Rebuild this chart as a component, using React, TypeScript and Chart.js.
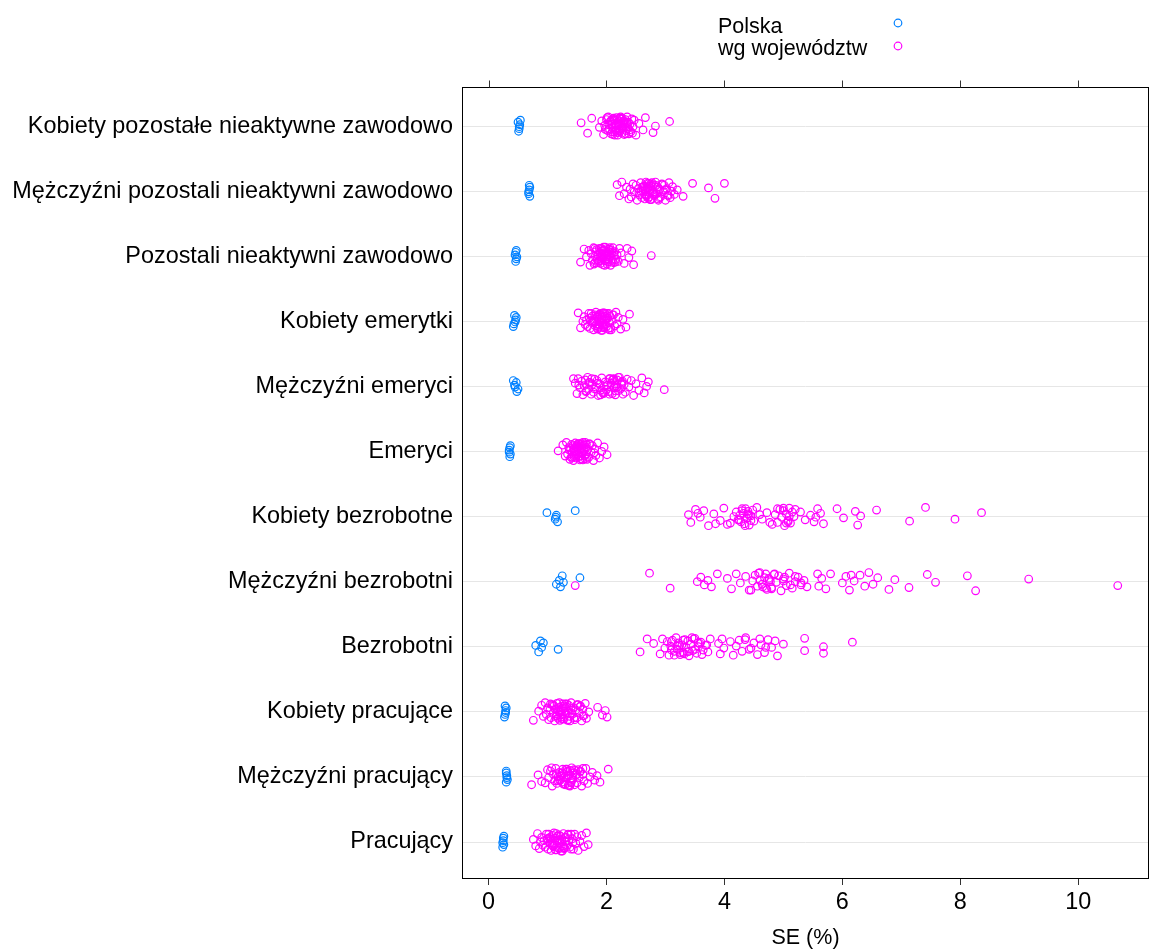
import React, { useEffect, useRef } from "react";
import { Chart, registerables } from "chart.js";

Chart.register(...registerables);

// Row labels, top to bottom
const categories = [
  "Kobiety pozostałe nieaktywne zawodowo",
  "Mężczyźni pozostali nieaktywni zawodowo",
  "Pozostali nieaktywni zawodowo",
  "Kobiety emerytki",
  "Mężczyźni emeryci",
  "Emeryci",
  "Kobiety bezrobotne",
  "Mężczyźni bezrobotni",
  "Bezrobotni",
  "Kobiety pracujące",
  "Mężczyźni pracujący",
  "Pracujący",
];

const seriesNames = ["Polska", "wg województw"];
const xTickValues = [0, 2, 4, 6, 8, 10];
const xTitle = "SE (%)";

// SE (%) for the whole country, one array per row
const polska: number[][] = [
  [0.5, 0.52, 0.53, 0.51, 0.54, 0.52],
  [0.68, 0.69, 0.7, 0.69, 0.68, 0.7],
  [0.45, 0.46, 0.47, 0.48, 0.46, 0.47],
  [0.42, 0.44, 0.45, 0.47, 0.43, 0.46],
  [0.42, 0.45, 0.47, 0.5, 0.44, 0.48],
  [0.35, 0.36, 0.37, 0.35, 0.36, 0.37],
  [0.99, 1.13, 1.15, 1.17, 1.47, 1.14],
  [1.15, 1.2, 1.22, 1.25, 1.27, 1.55],
  [0.8, 0.85, 0.88, 0.9, 0.93, 1.18],
  [0.27, 0.28, 0.29, 0.3, 0.28, 0.29],
  [0.3, 0.31, 0.3, 0.32, 0.31, 0.3],
  [0.24, 0.25, 0.26, 0.25, 0.24, 0.26],
];

// SE (%) by voivodeship, one array per row
const kobietyPozostale = [1.57, 1.68, 1.75, 1.88, 1.92, 1.95, 1.97, 2.0, 2.02, 2.03, 2.05, 2.06, 2.08, 2.09, 2.1, 2.11, 2.12, 2.13, 2.14, 2.15, 2.16, 2.17, 2.18, 2.19, 2.2, 2.21, 2.22, 2.23, 2.24, 2.25, 2.26, 2.27, 2.28, 2.29, 2.3, 2.31, 2.32, 2.33, 2.35, 2.36, 2.37, 2.38, 2.4, 2.41, 2.43, 2.45, 2.47, 2.5, 2.55, 2.62, 2.66, 2.79, 2.83, 3.07, 1.98, 2.04, 2.16, 2.22, 2.34, 2.44, 2.12, 2.26, 2.07, 2.11, 2.15, 2.18, 2.21, 2.24, 2.27, 2.3, 2.33, 2.2, 2.14, 2.25, 2.36, 2.09, 2.19, 2.29, 2.39, 2.01];
const mezczyzniPozostali = [2.18, 2.22, 2.26, 2.3, 2.34, 2.38, 2.4, 2.42, 2.45, 2.47, 2.5, 2.52, 2.54, 2.56, 2.58, 2.6, 2.62, 2.63, 2.65, 2.66, 2.68, 2.69, 2.7, 2.71, 2.72, 2.73, 2.75, 2.76, 2.78, 2.8, 2.81, 2.83, 2.85, 2.87, 2.88, 2.9, 2.92, 2.94, 2.96, 2.98, 3.0, 3.02, 3.04, 3.06, 3.08, 3.1, 3.12, 3.15, 3.2, 3.3, 3.46, 3.73, 3.84, 4.0, 2.55, 2.64, 2.74, 2.86, 2.95, 3.05, 2.67, 2.79, 2.6, 2.65, 2.7, 2.72, 2.75, 2.8, 2.84, 2.88, 2.62, 2.68, 2.77, 2.9, 2.58, 2.71, 2.82, 3.0];
const pozostali = [1.56, 1.62, 1.66, 1.7, 1.72, 1.74, 1.76, 1.78, 1.8, 1.81, 1.82, 1.84, 1.85, 1.86, 1.88, 1.89, 1.9, 1.91, 1.92, 1.93, 1.94, 1.95, 1.96, 1.97, 1.98, 1.99, 2.0, 2.01, 2.02, 2.03, 2.04, 2.05, 2.06, 2.07, 2.08, 2.1, 2.11, 2.12, 2.13, 2.14, 2.16, 2.18, 2.2, 2.22, 2.25, 2.3, 2.35, 2.38, 2.43, 2.46, 2.76, 1.83, 1.87, 1.95, 2.0, 2.09, 1.79, 1.92, 2.15, 2.05, 1.9, 1.94, 1.97, 2.0, 2.02, 2.06, 1.86, 1.99, 2.04, 1.93, 1.96, 2.1, 1.8, 2.12];
const kobietyEmerytki = [1.52, 1.56, 1.6, 1.62, 1.64, 1.66, 1.68, 1.7, 1.71, 1.72, 1.74, 1.75, 1.76, 1.78, 1.79, 1.8, 1.81, 1.82, 1.83, 1.84, 1.85, 1.86, 1.87, 1.88, 1.89, 1.9, 1.91, 1.92, 1.93, 1.94, 1.95, 1.96, 1.97, 1.98, 1.99, 2.0, 2.01, 2.02, 2.03, 2.04, 2.05, 2.06, 2.08, 2.1, 2.12, 2.14, 2.16, 2.18, 2.2, 2.24, 2.28, 2.33, 2.39, 1.77, 1.85, 1.93, 2.0, 1.88, 1.96, 2.07, 1.8, 1.84, 1.88, 1.92, 1.95, 1.98, 2.02, 1.86, 1.9, 1.94, 1.97, 2.05, 1.75, 2.1];
const mezczyzniEmeryci = [1.44, 1.47, 1.5, 1.52, 1.55, 1.58, 1.6, 1.62, 1.64, 1.66, 1.68, 1.7, 1.72, 1.74, 1.76, 1.78, 1.8, 1.82, 1.84, 1.86, 1.88, 1.9, 1.92, 1.94, 1.96, 1.98, 2.0, 2.02, 2.04, 2.06, 2.08, 2.1, 2.12, 2.13, 2.14, 2.15, 2.16, 2.18, 2.2, 2.22, 2.24, 2.26, 2.28, 2.3, 2.32, 2.35, 2.38, 2.42, 2.46, 2.5, 2.55, 2.6, 2.64, 2.68, 2.71, 2.98, 1.53, 1.65, 1.75, 1.85, 1.95, 2.05, 2.17, 2.27, 1.9, 2.0, 2.1, 2.15, 2.2, 1.8, 1.7, 2.05, 2.25, 1.95, 2.12, 2.18];
const emeryci = [1.18, 1.26, 1.3, 1.32, 1.34, 1.36, 1.38, 1.39, 1.4, 1.41, 1.42, 1.43, 1.44, 1.45, 1.46, 1.47, 1.48, 1.49, 1.5, 1.51, 1.52, 1.53, 1.54, 1.55, 1.56, 1.57, 1.58, 1.59, 1.6, 1.61, 1.62, 1.63, 1.64, 1.65, 1.66, 1.67, 1.68, 1.7, 1.72, 1.74, 1.76, 1.78, 1.8, 1.82, 1.85, 1.88, 1.92, 1.96, 2.01, 1.37, 1.45, 1.52, 1.58, 1.64, 1.71, 1.79, 1.48, 1.55, 1.45, 1.5, 1.55, 1.6, 1.48, 1.52, 1.58, 1.62, 1.42, 1.66, 1.47, 1.56];
const kobietyBezrobotne = [3.39, 3.43, 3.51, 3.59, 3.65, 3.73, 3.82, 3.93, 3.99, 4.1, 4.16, 4.2, 4.23, 4.26, 4.28, 4.3, 4.32, 4.34, 4.36, 4.38, 4.4, 4.42, 4.45, 4.48, 4.5, 4.55, 4.64, 4.72, 4.81, 4.86, 4.9, 4.94, 4.97, 5.0, 5.02, 5.05, 5.08, 5.1, 5.12, 5.18, 5.29, 5.37, 5.46, 5.52, 5.58, 5.63, 5.68, 5.91, 6.02, 6.22, 6.26, 6.31, 6.58, 7.14, 7.41, 7.91, 8.36, 4.05, 4.6, 4.77, 5.2, 5.55, 4.3, 4.35, 4.4, 4.45, 5.0, 5.05, 5.1, 5.15, 4.25, 4.42, 5.08, 4.9, 3.55, 3.85];
const mezczyzniBezrobotni = [1.47, 2.73, 3.08, 3.54, 3.6, 3.66, 3.72, 3.78, 3.88, 4.05, 4.12, 4.2, 4.27, 4.36, 4.42, 4.48, 4.52, 4.56, 4.6, 4.64, 4.68, 4.72, 4.76, 4.8, 4.84, 4.88, 4.92, 4.96, 5.0, 5.05, 5.1, 5.15, 5.2, 5.25, 5.3, 5.35, 5.4, 5.58, 5.65, 5.72, 5.8, 6.0, 6.06, 6.12, 6.2, 6.3, 6.38, 6.45, 6.52, 6.6, 6.79, 6.89, 7.13, 7.44, 7.58, 8.12, 8.26, 9.16, 10.67, 4.58, 4.7, 4.78, 5.02, 5.12, 4.6, 4.65, 4.7, 4.75, 4.8, 4.85, 5.3, 5.2, 4.45, 5.0, 6.15, 5.6];
const bezrobotni = [2.57, 2.69, 2.8, 2.91, 2.95, 2.99, 3.03, 3.06, 3.09, 3.12, 3.15, 3.18, 3.2, 3.22, 3.25, 3.28, 3.3, 3.33, 3.35, 3.38, 3.4, 3.43, 3.46, 3.5, 3.53, 3.56, 3.6, 3.64, 3.68, 3.72, 3.76, 3.9, 3.93, 3.96, 3.99, 4.1, 4.15, 4.2, 4.25, 4.3, 4.36, 4.42, 4.5, 4.56, 4.62, 4.68, 4.74, 4.8, 4.86, 4.9, 5.0, 5.36, 5.36, 5.68, 5.68, 6.17, 3.1, 3.24, 3.37, 3.48, 3.58, 3.32, 4.6, 4.45, 3.1, 3.15, 3.2, 3.3, 3.4, 3.45, 3.5, 3.55, 3.62, 3.7, 3.25, 4.35, 4.7];
const kobietyPracujace = [0.76, 0.85, 0.9, 0.93, 0.96, 0.98, 1.0, 1.02, 1.04, 1.06, 1.08, 1.1, 1.11, 1.12, 1.14, 1.15, 1.16, 1.18, 1.19, 1.2, 1.22, 1.23, 1.24, 1.26, 1.27, 1.28, 1.3, 1.31, 1.32, 1.34, 1.35, 1.36, 1.38, 1.4, 1.42, 1.44, 1.46, 1.48, 1.5, 1.52, 1.54, 1.56, 1.58, 1.6, 1.62, 1.64, 1.66, 1.7, 1.85, 1.93, 1.98, 2.01, 1.05, 1.17, 1.25, 1.33, 1.41, 1.55, 1.21, 1.29, 1.1, 1.15, 1.2, 1.25, 1.3, 1.35, 1.4, 1.45, 1.5, 1.22, 1.28, 1.38, 1.13, 1.6];
const mezczyzniPracujacy = [0.73, 0.84, 0.96, 1.0, 1.02, 1.05, 1.08, 1.1, 1.12, 1.14, 1.16, 1.18, 1.2, 1.22, 1.24, 1.25, 1.26, 1.28, 1.3, 1.31, 1.32, 1.34, 1.35, 1.36, 1.38, 1.4, 1.41, 1.42, 1.44, 1.46, 1.48, 1.5, 1.52, 1.54, 1.56, 1.58, 1.6, 1.62, 1.65, 1.68, 1.72, 1.76, 1.8, 1.84, 1.89, 2.03, 1.15, 1.27, 1.33, 1.43, 1.55, 1.37, 1.21, 1.47, 0.9, 1.07, 1.2, 1.25, 1.3, 1.35, 1.4, 1.45, 1.28, 1.33, 1.38, 1.5, 1.18, 1.6];
const pracujacy = [0.76, 0.8, 0.83, 0.86, 0.88, 0.9, 0.92, 0.94, 0.96, 0.98, 1.0, 1.01, 1.02, 1.04, 1.05, 1.06, 1.08, 1.09, 1.1, 1.11, 1.12, 1.14, 1.15, 1.16, 1.18, 1.19, 1.2, 1.22, 1.23, 1.24, 1.26, 1.27, 1.28, 1.3, 1.32, 1.34, 1.36, 1.38, 1.4, 1.42, 1.44, 1.46, 1.48, 1.5, 1.52, 1.55, 1.58, 1.62, 1.66, 1.69, 1.03, 1.13, 1.21, 1.29, 1.35, 1.43, 1.17, 1.25, 1.05, 1.1, 1.15, 1.2, 1.25, 1.3, 1.08, 1.18, 1.28, 1.35, 1.0, 1.4];

const wojewodztwa: number[][] = [
  kobietyPozostale,
  mezczyzniPozostali,
  pozostali,
  kobietyEmerytki,
  mezczyzniEmeryci,
  emeryci,
  kobietyBezrobotne,
  mezczyzniBezrobotni,
  bezrobotni,
  kobietyPracujace,
  mezczyzniPracujacy,
  pracujacy,
];

// Fixed vertical spread (in row units) so overlapping circles stay visible
const JITTER = [0.05, -0.11, 0.12, -0.02, 0.08, -0.13, 0.01, 0.1, -0.07, 0.14, -0.04, 0.06, -0.12, 0.03, -0.09, 0.11, -0.01, 0.09, -0.14, 0.04, -0.06, 0.13, -0.1, 0.0, 0.07, -0.05, 0.02, -0.08, 0.12];
const POLSKA_JITTER = [0.06, -0.04, 0.02, -0.08, 0.09, -0.01];

const BLUE = "#0080ff";
const MAGENTA = "#ff00ff";
const FONT = "'Liberation Sans', Arial, sans-serif";

function rowPos(i: number) {
  return categories.length - i;
}

function buildPoints(rows: number[][], spread: number[], shift: number) {
  const pts: { x: number; y: number }[] = [];
  rows.forEach((vals, i) => {
    vals.forEach((v, k) => {
      pts.push({ x: v, y: rowPos(i) + spread[(k + shift + i * 7) % spread.length] });
    });
  });
  return pts;
}

const framePlugin = {
  id: "latticeFrame",
  afterDraw(chart: any) {
    const { ctx, chartArea } = chart;
    const xs = chart.scales.x;
    ctx.save();
    ctx.strokeStyle = "#000";
    ctx.lineWidth = 1;
    const l = Math.round(chartArea.left) + 0.5;
    const t = Math.round(chartArea.top) + 0.5;
    const r = Math.round(chartArea.right) - 0.5;
    const b = Math.round(chartArea.bottom) + 0.5;
    ctx.strokeRect(l, t, r - l, b - t);
    // top axis tick marks
    ctx.strokeStyle = "#333";
    xTickValues.forEach((v) => {
      const px = Math.round(xs.getPixelForValue(v)) + 0.5;
      ctx.beginPath();
      ctx.moveTo(px, t);
      ctx.lineTo(px, t - 7);
      ctx.stroke();
    });
    // legend: text with symbol on its right
    const colors = [BLUE, MAGENTA];
    const baselines = [33, 55];
    const symY = [23, 46];
    ctx.font = `21.5px ${FONT}`;
    ctx.fillStyle = "#000";
    ctx.textBaseline = "alphabetic";
    ctx.textAlign = "left";
    seriesNames.forEach((name, i) => {
      ctx.fillText(name, 718, baselines[i]);
      ctx.beginPath();
      ctx.strokeStyle = colors[i];
      ctx.lineWidth = 1.2;
      ctx.arc(898, symY[i], 3.8, 0, Math.PI * 2);
      ctx.stroke();
    });
    ctx.restore();
  },
};

export default function App() {
  const canvasRef = useRef<HTMLCanvasElement | null>(null);

  useEffect(() => {
    document.body.style.margin = "0";
    const canvas = canvasRef.current;
    if (!canvas) return;
    const chart = new Chart(canvas, {
      type: "scatter",
      data: {
        datasets: [
          {
            label: seriesNames[0],
            data: buildPoints(polska, POLSKA_JITTER, 0),
            borderColor: BLUE,
            backgroundColor: "rgba(0,0,0,0)",
            pointRadius: 3.8,
            pointBorderWidth: 1.2,
            pointStyle: "circle",
          },
          {
            label: seriesNames[1],
            data: buildPoints(wojewodztwa, JITTER, 0),
            borderColor: MAGENTA,
            backgroundColor: "rgba(0,0,0,0)",
            pointRadius: 3.8,
            pointBorderWidth: 1.2,
            pointStyle: "circle",
          },
        ],
      },
      options: {
        responsive: false,
        animation: false,
        layout: { autoPadding: false, padding: { top: 87, right: 0, left: 0, bottom: 0 } },
        plugins: {
          legend: { display: false },
          tooltip: { enabled: false },
        },
        scales: {
          x: {
            type: "linear",
            position: "bottom",
            min: -0.45,
            max: 11.2,
            afterBuildTicks: (axis: any) => {
              axis.ticks = xTickValues.map((v) => ({ value: v }));
            },
            afterFit: (axis: any) => {
              axis.height = 952 - 878;
            },
            border: { display: false },
            grid: {
              drawOnChartArea: false,
              drawTicks: true,
              tickLength: 7,
              tickColor: "#333",
            },
            ticks: {
              padding: 4,
              color: "#000",
              font: { family: FONT, size: 23.4 },
              callback: (v: any) => String(v),
            },
            title: {
              display: true,
              text: xTitle,
              color: "#000",
              font: { family: FONT, size: 21.5 },
              padding: { top: 0, bottom: 1 },
            },
          },
          y: {
            type: "linear",
            min: 0.447,
            max: 12.6,
            afterBuildTicks: (axis: any) => {
              axis.ticks = categories.map((_, i) => ({ value: rowPos(i) }));
            },
            afterFit: (axis: any) => {
              axis.width = 462;
            },
            border: { display: false },
            grid: {
              color: "#e6e6e6",
              lineWidth: 1,
              drawTicks: false,
            },
            ticks: {
              padding: 9,
              color: "#000",
              font: { family: FONT, size: 23.4 },
              callback: (v: any) => categories[categories.length - Math.round(v)],
            },
          },
        },
      },
      plugins: [framePlugin],
    } as any);
    return () => chart.destroy();
  }, []);

  return (
    <div style={{ width: 1149, height: 952 }}>
      <canvas ref={canvasRef} width={1149} height={952} style={{ display: "block" }} />
    </div>
  );
}
